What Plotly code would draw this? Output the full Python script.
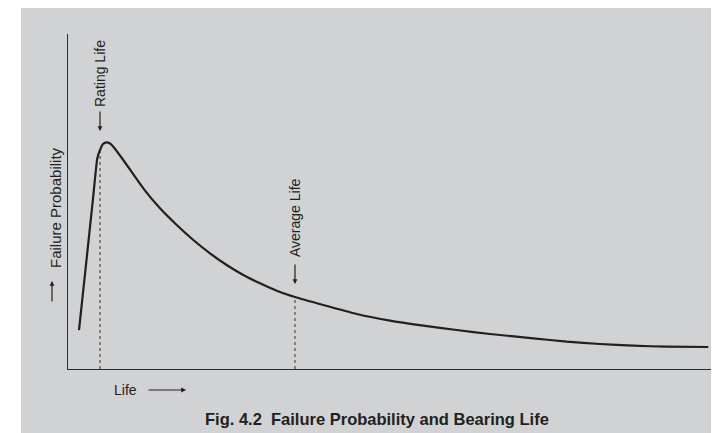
import plotly.graph_objects as go

# Curve data (Life in arbitrary units 0-100, failure probability 0-100)
life = [1.71, 2.91, 3.93, 4.56, 4.98, 5.44, 6.02, 6.53, 7.05, 8.60, 11.71, 14.31,
        16.91, 19.49, 22.08, 24.68, 27.26, 29.86, 32.46, 35.30, 39.70, 44.90,
        50.08, 55.26, 60.45, 65.63, 72.36, 77.56, 82.74, 87.92, 93.11, 99.58]
prob = [11.64, 33.13, 51.64, 62.90, 65.37, 67.16, 67.67, 67.31, 66.36, 62.39, 53.94, 47.97,
        42.99, 38.51, 34.54, 31.04, 28.06, 25.58, 23.37, 21.49, 19.10, 16.42,
        14.42, 12.93, 11.64, 10.45, 9.16, 8.15, 7.46, 6.96, 6.66, 6.57]

rating_life = 4.98
rating_prob = 65.37
average_life = 35.30
average_prob = 21.49

labels = {
    "rating": "Rating Life",
    "average": "Average Life",
    "ylabel": "Failure Probability",
    "xlabel": "Life",
    "caption": "Fig. 4.2&nbsp;&nbsp;Failure Probability and Bearing Life",
}

OFF = 8  # page body margin
W, H = 719 - OFF, 433 - OFF
# plot area in page pixels
PL, PR, PT, PB = 68, 711, 34, 369
L, R, T, B = PL - OFF, PR - OFF, PT - OFF, PB - OFF
XR = [0, 100]
YR = [0, 100]

def px(x):
    return (x - PL) / (PR - PL)

def py(y):
    return (PB - y) / (PB - PT)

FONT = "Liberation Sans, Arial, Helvetica, sans-serif"
BG = "#d1d2d4"
INK = "#231f20"

fig = go.Figure()

fig.add_trace(go.Scatter(x=[rating_life, rating_life], y=[0, rating_prob], mode="lines",
                         line=dict(color="#555555", width=1.3, dash="3px,3px"),
                         hoverinfo="skip", showlegend=False))
fig.add_trace(go.Scatter(x=[average_life, average_life], y=[0, average_prob], mode="lines",
                         line=dict(color="#555555", width=1.3, dash="3px,3px"),
                         hoverinfo="skip", showlegend=False))
fig.add_trace(go.Scatter(x=life, y=prob, mode="lines",
                         line=dict(color=INK, width=2.2, shape="spline", smoothing=0.5),
                         hoverinfo="skip", showlegend=False))

# gray background panel
fig.add_shape(type="rect", xref="paper", yref="paper",
              x0=px(21), x1=px(720), y0=py(434), y1=py(7),
              fillcolor=BG, line=dict(width=0), layer="below")

def text(xp, yp, t, size, angle=0, bold=False):
    return dict(xref="paper", yref="paper", x=px(xp), y=py(yp),
                xanchor="center", yanchor="middle",
                text=("<b>" + t + "</b>") if bold else t, textangle=angle,
                showarrow=False, font=dict(family=FONT, size=size, color=INK))

def arrow(x_tip, y_tip, dx, dy):
    return dict(xref="paper", yref="paper", x=px(x_tip), y=py(y_tip),
                ax=dx, ay=dy, axref="pixel", ayref="pixel", text="", showarrow=True,
                arrowhead=2, arrowsize=0.8, arrowwidth=1.2, arrowcolor=INK)

ann = [
    text(100, 74, labels["rating"], 14, -90),
    arrow(100, 131, 0, -21),
    text(295, 218, labels["average"], 14, -90),
    arrow(295, 284, 0, -21),
    text(55, 208, labels["ylabel"], 15, -90),
    arrow(52, 281, 0, 22),
    text(125.5, 390, labels["xlabel"], 14),
    arrow(186, 390, -39, 0),
    text(376.5, 419, labels["caption"], 16.5, bold=True),
]

fig.update_layout(
    width=W, height=H,
    margin=dict(l=L, r=W - R, t=T, b=H - B, pad=0),
    paper_bgcolor="white",
    plot_bgcolor=BG,
    annotations=ann,
    showlegend=False,
    xaxis=dict(range=XR, showgrid=False, zeroline=False, showticklabels=False,
               ticks="", showline=True, linecolor="#2b2b2b", linewidth=1.3, fixedrange=True),
    yaxis=dict(range=YR, showgrid=False, zeroline=False, showticklabels=False,
               ticks="", showline=True, linecolor="#2b2b2b", linewidth=1.3, fixedrange=True),
)

fig.write_html("out.html", config={"displayModeBar": False})
